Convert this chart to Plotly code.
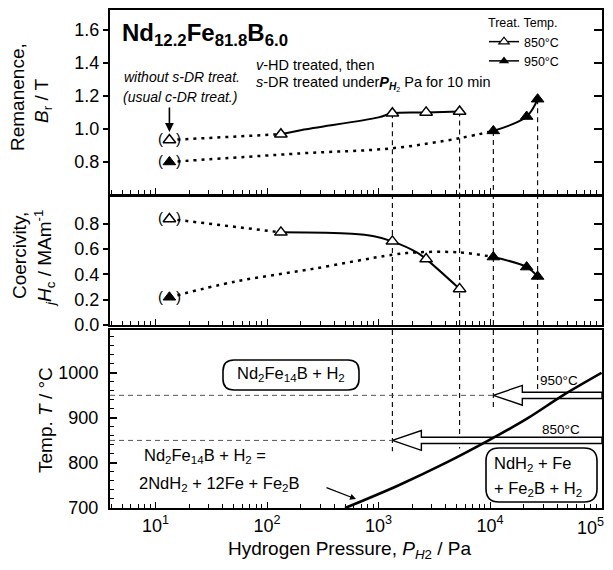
import math
import plotly.graph_objects as go

# ---------------- data ----------------
P_850 = [13.3, 133, 1330, 2670, 5330]           # Pa
Br_850 = [0.933, 0.968, 1.095, 1.100, 1.105]     # T
Hc_850 = [0.837, 0.731, 0.660, 0.520, 0.285]     # MA/m

P_950 = [13.3, 10700, 21300, 26700]
Br_950 = [0.800, 0.988, 1.075, 1.180]
Hc_950 = [0.219, 0.536, 0.457, 0.383]

# fitted guide curves
Br850_fit_P = [133, 205, 1000, 1330, 2670, 5330]
Br850_fit_v = [0.968, 0.994, 1.070, 1.095, 1.100, 1.105]
Br950_dot_P = [13.3, 200, 1330, 5330, 10700]
Br950_dot_v = [0.800, 0.852, 0.883, 0.944, 0.988]
Br950_fit_P = [10700, 21300, 26700]
Br950_fit_v = [0.988, 1.075, 1.180]

Hc850_fit_P = [133, 575, 910, 1330, 2200, 2670, 5330]
Hc850_fit_v = [0.731, 0.720, 0.700, 0.660, 0.573, 0.520, 0.285]
Hc950_dot_P = [13.3, 52, 250, 1330, 2200, 5330, 10700]
Hc950_dot_v = [0.219, 0.343, 0.441, 0.554, 0.573, 0.573, 0.536]
Hc950_fit_P = [10700, 21300, 26700]
Hc950_fit_v = [0.536, 0.457, 0.383]

# phase boundary Nd2Fe14B + H2 = 2NdH2 + 12Fe + Fe2B
Line_P = [500, 1500, 4000, 9700, 22000, 45000, 100000]
Line_T = [700, 750, 800, 850, 900, 950, 1000]

# treatment temperatures and arrow tips (pressure where treatment starts)
T_treat = [950, 850]
P_tip = [10700, 1330]
# vertical guide lines: pressure, lower end in temperature panel
V_P = [1330, 5330, 10700, 26700]
V_Tend = [826, 832, 924, 955]
V_Br = [1.095, 1.105, 0.988, 1.180]

X_TICKS = [10, 100, 1000, 10000, 100000]
X_TICKTEXT = ["10<sup>1</sup>", "10<sup>2</sup>", "10<sup>3</sup>", "10<sup>4</sup>", ""]
X_LAST_LABEL = "10<sup>5</sup>"
Y1_TICKS = [0.8, 1.0, 1.2, 1.4, 1.6]
Y2_TICKS = [0.0, 0.2, 0.4, 0.6, 0.8]
Y3_TICKS = [700, 800, 900, 1000]

# ---------------- layout constants ----------------
OFF = 8                      # page body margin of the browser
W, H = 613 - 2 * OFF, 570 - 2 * OFF
PLOT_L, PLOT_R, PLOT_T, PLOT_B = 110, 602, 10, 508   # plot area in screen pixels
ML, MT = PLOT_L - OFF, PLOT_T - OFF
MR, MB = OFF + W - PLOT_R, OFF + H - PLOT_B
PW, PH = PLOT_R - PLOT_L, PLOT_B - PLOT_T
XR = [0.591, 5.004]
Y1R = [0.606, 1.72]
Y2R = [0.0, 1.01]
Y3R = [700, 1095]
FONT = "Liberation Sans, Arial, sans-serif"
TICK_FS = 18
TITLE_FS = 19
P3_FS = 16.5


def PX(px):
    return (px - PLOT_L) / PW


def PY(py):
    return (PLOT_B - py) / PH


def dom(top_px, bot_px):
    return [PY(bot_px), PY(top_px)]


fig = go.Figure()

open_m = dict(symbol="triangle-up", size=11, color="white", line=dict(color="black", width=1.5))
fill_m = dict(symbol="triangle-up", size=11, color="black", line=dict(color="black", width=1))
solid = dict(color="black", width=2)
dotted = dict(color="black", width=2.5, dash="3px,5px")
vdash = dict(color="black", width=1.1, dash="5px,4px")
hdash = dict(color="#555", width=1, dash="5px,4px")


def add(x, y, xa, ya, **kw):
    fig.add_trace(go.Scatter(x=x, y=y, xaxis=xa, yaxis=ya, showlegend=False,
                             hoverinfo="skip", **kw))


# ---- panel 1: remanence ----
for p, b in zip(V_P, V_Br):
    add([p, p], [b, Y1R[0]], "x", "y", mode="lines", line=vdash)
add(P_850[:2], Br_850[:2], "x", "y", mode="lines", line=dotted)
add(Br950_dot_P, Br950_dot_v, "x", "y", mode="lines", line=dotted, line_shape="spline")
add(Br850_fit_P, Br850_fit_v, "x", "y", mode="lines", line=solid, line_shape="spline")
add(Br950_fit_P, Br950_fit_v, "x", "y", mode="lines", line=solid, line_shape="spline")
add(P_850, Br_850, "x", "y", mode="markers", marker=open_m)
add(P_950, Br_950, "x", "y", mode="markers", marker=fill_m)
add([None], [None], "x", "y4", mode="markers")

# ---- panel 2: coercivity ----
for p in V_P:
    add([p, p], [Y2R[0], Y2R[1]], "x2", "y2", mode="lines", line=vdash)
add(P_850[:2], Hc_850[:2], "x2", "y2", mode="lines", line=dotted)
add(Hc950_dot_P, Hc950_dot_v, "x2", "y2", mode="lines", line=dotted, line_shape="spline")
add(Hc850_fit_P, Hc850_fit_v, "x2", "y2", mode="lines", line=solid, line_shape="spline")
add(Hc950_fit_P, Hc950_fit_v, "x2", "y2", mode="lines", line=solid, line_shape="spline")
add(P_850, Hc_850, "x2", "y2", mode="markers", marker=open_m)
add(P_950, Hc_950, "x2", "y2", mode="markers", marker=fill_m)
add([None], [None], "x2", "y5", mode="markers")

# ---- panel 3: temperature ----
for p, t in zip(V_P, V_Tend):
    add([p, p], [Y3R[1], t], "x3", "y3", mode="lines", line=vdash)
for t, p in zip(T_treat, P_tip):
    add([10 ** XR[0], p], [t, t], "x3", "y3", mode="lines", line=hdash)

HEAD_DEC = 0.26   # arrow head length in decades
HEAD_HALF = 22    # degC
SHAFT_HALF = 7    # degC
for t, p in zip(T_treat, P_tip):
    lt = math.log10(p)
    lb = lt + HEAD_DEC
    xs = [p, 10 ** lb, 10 ** lb, 10 ** XR[1], 10 ** XR[1], 10 ** lb, 10 ** lb, p]
    ys = [t, t + HEAD_HALF, t + SHAFT_HALF, t + SHAFT_HALF, t - SHAFT_HALF,
          t - SHAFT_HALF, t - HEAD_HALF, t]
    add(xs, ys, "x3", "y3", mode="lines", fill="toself", fillcolor="white",
        line=dict(color="black", width=1.4))
add(Line_P, Line_T, "x3", "y3", mode="lines", line=dict(color="black", width=2.6),
    line_shape="spline")

# legend proxies
fig.add_trace(go.Scatter(x=[None], y=[None], xaxis="x", yaxis="y", name="850°C",
                         mode="lines+markers", line=dict(color="black", width=1.5),
                         marker=dict(symbol="triangle-up", size=9, color="white",
                                     line=dict(color="black", width=1.2))))
fig.add_trace(go.Scatter(x=[None], y=[None], xaxis="x", yaxis="y", name="950°C",
                         mode="lines+markers", line=dict(color="black", width=1.5),
                         marker=dict(symbol="triangle-up", size=9, color="black")))

# ---------------- axes ----------------
minor_vals = [k * 10 ** d for d in range(0, 5) for k in range(2, 10)
              if 10 ** XR[0] <= k * 10 ** d <= 10 ** XR[1]]


def xaxis(anchor, labels):
    return dict(type="log", range=XR, anchor=anchor, showline=True, linewidth=2,
                linecolor="black", mirror=True, showgrid=False, zeroline=False,
                ticks="inside", ticklen=6, tickwidth=1.2, tickcolor="black",
                tickvals=X_TICKS, ticktext=X_TICKTEXT, showticklabels=labels,
                automargin=False,
                tickfont=dict(size=TICK_FS, family=FONT, color="black"),
                minor=dict(ticks="inside", tickvals=minor_vals, ticklen=4,
                           tickwidth=1.2, tickcolor="black", showgrid=False))


def yaxis(rng, domain, ticks, fmt, anchor):
    return dict(range=rng, domain=domain, anchor=anchor, showline=True, linewidth=2,
                linecolor="black", mirror=True, showgrid=False, zeroline=False,
                ticks="outside", ticklen=5, tickwidth=1.5, tickcolor="black",
                tickvals=ticks, tickformat=fmt, automargin=False,
                tickfont=dict(size=TICK_FS, family=FONT, color="black"))


def ovl(over, rng, ticks, anchor):
    return dict(overlaying=over, side="right", anchor=anchor, range=rng,
                tickvals=ticks, ticks="inside", ticklen=8, tickwidth=1.5,
                tickcolor="black", showticklabels=False, showline=False,
                showgrid=False, zeroline=False, automargin=False)


D1 = dom(10, 194)
D2 = dom(197, 325)
D3 = dom(330, 508)

y3 = yaxis(Y3R, D3, Y3_TICKS, "d", "x3")
y3.update(ticks="inside", ticklen=7, ticklabelstandoff=6,
          minor=dict(ticks="inside", dtick=20, ticklen=4, tickwidth=1.2,
                     tickcolor="black", showgrid=False))

fig.update_layout(
    width=W, height=H,
    margin=dict(l=ML, r=MR, t=MT, b=MB, autoexpand=False),
    paper_bgcolor="white", plot_bgcolor="white",
    font=dict(family=FONT, color="black", size=13),
    xaxis=xaxis("y", False),
    xaxis2=xaxis("y2", False),
    xaxis3=xaxis("y3", True),
    yaxis=yaxis(Y1R, D1, Y1_TICKS, ".1f", "x"),
    yaxis2=yaxis(Y2R, D2, Y2_TICKS, ".1f", "x2"),
    yaxis3=y3,
    yaxis4=ovl("y", Y1R, Y1_TICKS, "x"),
    yaxis5=ovl("y2", Y2R, Y2_TICKS[1:], "x2"),
    showlegend=True,
    legend=dict(x=PX(564), xanchor="right", y=PY(27), yanchor="top",
                bgcolor="rgba(0,0,0,0)", font=dict(size=12.5, family=FONT),
                itemwidth=30, tracegroupgap=0),
)

# ---------------- annotations ----------------
anns = []


def txt(text, px, py, size=13, xanchor="left", angle=0, yanchor="middle"):
    anns.append(dict(text=text, x=PX(px), y=PY(py), xref="paper", yref="paper",
                     xanchor=xanchor, yanchor=yanchor, showarrow=False,
                     textangle=angle, font=dict(size=size, family=FONT, color="black")))


# last x tick label, pulled inside the page like in the original
txt(X_LAST_LABEL, 606, 526, TICK_FS, "right")

# axis titles
txt("Remanence,", 18, 97, TITLE_FS, "center", -90)
txt("<i>B</i><sub>r</sub> / T", 43, 101, TITLE_FS, "center", -90)
txt("Coercivity,", 19, 256, TITLE_FS, "center", -90)
txt("<sub><i>j</i></sub><i>H</i><sub>c</sub> / MAm<sup>-1</sup>", 44, 259, TITLE_FS, "center", -90)
txt("Temp. <i>T</i> / °C", 45, 420, TITLE_FS, "center", -90)
txt("Hydrogen Pressure, <i>P</i><sub><i>H</i>2</sub> / Pa", 349, 550, TITLE_FS, "center")

# panel 1 texts
txt("<b>Nd<sub>12.2</sub>Fe<sub>81.8</sub>B<sub>6.0</sub></b>", 120, 35, 24)
txt("<i>without s-DR treat.</i>", 122, 77, 14)
txt("<i>(usual c-DR treat.)</i>", 121, 97, 14)
txt("<i>v</i>-HD treated, then", 254, 65, 14.5)
txt("<i>s</i>-DR treated under<i><b>P</b></i><sub><i><b>H</b></i><sub>2</sub></sub> Pa for 10 min",
    254, 84, 14.5)
txt("Treat. Temp.", 559, 23, 12.5, "right")

# parentheses around the reference (no s-DR) points
for (pp, vv, ya) in [(P_850[0], Br_850[0], "y"), (P_950[0], Br_950[0], "y"),
                     (P_850[0], Hc_850[0], "y2"), (P_950[0], Hc_950[0], "y2")]:
    xa = "x" if ya == "y" else "x2"
    for s, sh in [("(", -9), (")", 9)]:
        anns.append(dict(text=s, x=math.log10(pp), y=vv, xref=xa, yref=ya,
                         xshift=sh, yshift=1, showarrow=False,
                         font=dict(size=15, family=FONT, color="black")))

# down arrow to reference point
anns.append(dict(text="", x=math.log10(P_850[0]), y=0.982, xref="x", yref="y",
                 showarrow=True, ax=0, ay=-26, arrowhead=2, arrowsize=1.1,
                 arrowwidth=1.6, arrowcolor="black"))

# panel 3 texts
txt("Nd<sub>2</sub>Fe<sub>14</sub>B + H<sub>2</sub>", 291, 374, P3_FS, "center")
txt("Nd<sub>2</sub>Fe<sub>14</sub>B + H<sub>2</sub> =", 142, 456, P3_FS)
txt("2NdH<sub>2</sub> + 12Fe + Fe<sub>2</sub>B", 137, 484, P3_FS)
txt("NdH<sub>2</sub> + Fe", 492, 464, P3_FS)
txt("+ Fe<sub>2</sub>B + H<sub>2</sub>", 492, 489, P3_FS)
txt("950°C", 559, 380, 13.5, "center")
txt("850°C", 561, 429, 13.5, "center")

anns.append(dict(text="", x=PX(356), y=PY(499), xref="paper", yref="paper",
                 showarrow=True, ax=-31, ay=-12, arrowhead=2, arrowsize=1,
                 arrowwidth=1.2, arrowcolor="black"))

fig.update_layout(annotations=anns)


# rounded boxes
def rbox(x0, y0, x1, y1, r):
    def P(a, b):
        return f"{PX(a):.5f},{PY(b):.5f}"
    path = (f"M{P(x0 + r, y0)} L{P(x1 - r, y0)} Q{P(x1, y0)} {P(x1, y0 + r)} "
            f"L{P(x1, y1 - r)} Q{P(x1, y1)} {P(x1 - r, y1)} L{P(x0 + r, y1)} "
            f"Q{P(x0, y1)} {P(x0, y1 - r)} L{P(x0, y0 + r)} Q{P(x0, y0)} {P(x0 + r, y0)} Z")
    return dict(type="path", path=path, xref="paper", yref="paper",
                line=dict(color="black", width=1.6), fillcolor="rgba(0,0,0,0)")


fig.update_layout(shapes=[rbox(223, 360, 359, 390, 11), rbox(486, 448, 597, 502, 13)])

fig.write_html("out.html")
